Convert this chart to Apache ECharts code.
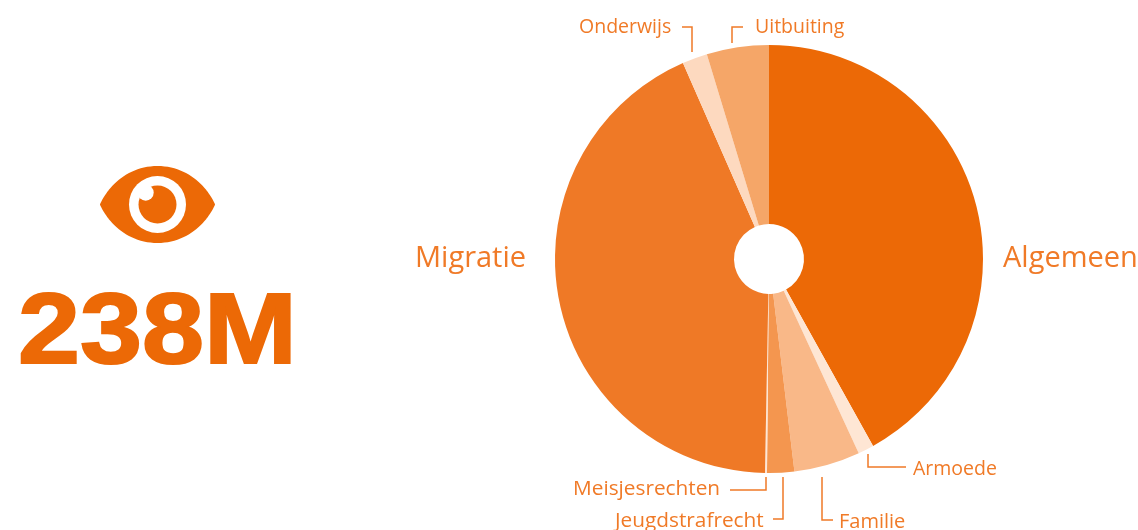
<!DOCTYPE html>
<html><head><meta charset="utf-8">
<style>html,body{margin:0;padding:0;background:#fff}#c{width:1138px;height:530px}</style>
<script src="https://cdn.jsdelivr.net/npm/echarts@6/dist/echarts.min.js"></script></head>
<body><div id="c"></div>
<script>
const categories = ['Algemeen','Armoede','Familie','Jeugdstrafrecht','Meisjesrechten','Migratie','Onderwijs','Uitbuiting'];
const shares = [42, 1.2, 5, 2.05, 0.15, 43.2, 1.9, 4.7];
const colors = ['#EC6906','#FEE6D4','#F9B888','#F4964F','#FDE6D6','#EF7926','#FDD9BF','#F5A668'];
const headline = '238M';

// label placement and leader-line elbows (page pixels)
const labelStyle = [
  {x:1003,y:259,size:29},
  {x:913,y:469,size:19.5,line:[[868,454],[868,467],[906,467]]},
  {x:839,y:522,size:20,line:[[822,477],[822,520],[833,520]]},
  {x:615,y:521,size:20.8,line:[[783,477],[783,519],[773,519]]},
  {x:573,y:489,size:20.8,line:[[766,477],[766,490],[730,490]]},
  {x:415,y:259,size:29},
  {x:579,y:27,size:19.5,line:[[692,52],[692,27],[682,27]]},
  {x:755,y:27,size:19.5,line:[[732,43],[732,27],[743,27]]}
];

// eye icon outline, sampled from a cubic curve, mirrored on both axes
function eyeOutline(cx, cy, hw, hh){
  const q = [];
  for(let i=0;i<=24;i++){
    const t=i/24,u=1-t;
    q.push([u*u*u*-1+3*u*u*t*-0.85+3*u*t*t*-0.5, 3*u*u*t*0.5+3*u*t*t+t*t*t]);
  }
  const pts=[];
  q.forEach(p=>pts.push([cx+p[0]*hw,cy-p[1]*hh]));
  q.slice().reverse().slice(1).forEach(p=>pts.push([cx-p[0]*hw,cy-p[1]*hh]));
  q.slice(1).forEach(p=>pts.push([cx-p[0]*hw,cy+p[1]*hh]));
  q.slice().reverse().slice(1,-1).forEach(p=>pts.push([cx+p[0]*hw,cy+p[1]*hh]));
  return pts;
}

const chart = echarts.init(document.getElementById('c'), null, {renderer:'canvas'});
chart.setOption({
  animation:false,
  backgroundColor:'#fff',
  graphic:[
    {type:'polygon',shape:{points:eyeOutline(157.5,204.5,56.5,37.5)},style:{fill:'#EC6906',stroke:'#EC6906',lineWidth:2,lineJoin:'round'}},
    {type:'circle',shape:{cx:157.5,cy:204.5,r:28.5},style:{fill:'#fff'}},
    {type:'circle',shape:{cx:157.5,cy:204.5,r:19},style:{fill:'#EC6906'}},
    {type:'circle',shape:{cx:145.7,cy:192.7,r:8},style:{fill:'#fff'}},
    {type:'text',x:18,y:385,scaleX:1.115,style:{text:headline,fill:'#EC6906',stroke:'#EC6906',lineWidth:2,
      font:'bold 100px "Liberation Sans"',verticalAlign:'bottom'}}
  ],
  series:[{
    type:'pie',
    center:[769,259],
    radius:[35,214],
    startAngle:90,
    clockwise:true,
    minShowLabelAngle:0,
    avoidLabelOverlap:false,
    silent:true,
    data:categories.map((n,i)=>({name:n,value:shares[i],itemStyle:{color:colors[i]},labelLine:{show:!!labelStyle[i].line}})),
    label:{show:true,formatter:'{b}',color:'#F07A27',fontFamily:'Open Sans',fontWeight:'normal'},
    labelLine:{show:true,lineStyle:{color:'#F07A27',width:1.5},smooth:false},
    itemStyle:{borderWidth:0},
    labelLayout:function(p){
      const s = labelStyle[p.dataIndex];
      return {
        x:s.x,y:s.y,align:'left',verticalAlign:'middle',fontSize:s.size,
        labelLinePoints:s.line||[[0,0],[0,0],[0,0]]
      };
    }
  }]
});
</script></body></html>
